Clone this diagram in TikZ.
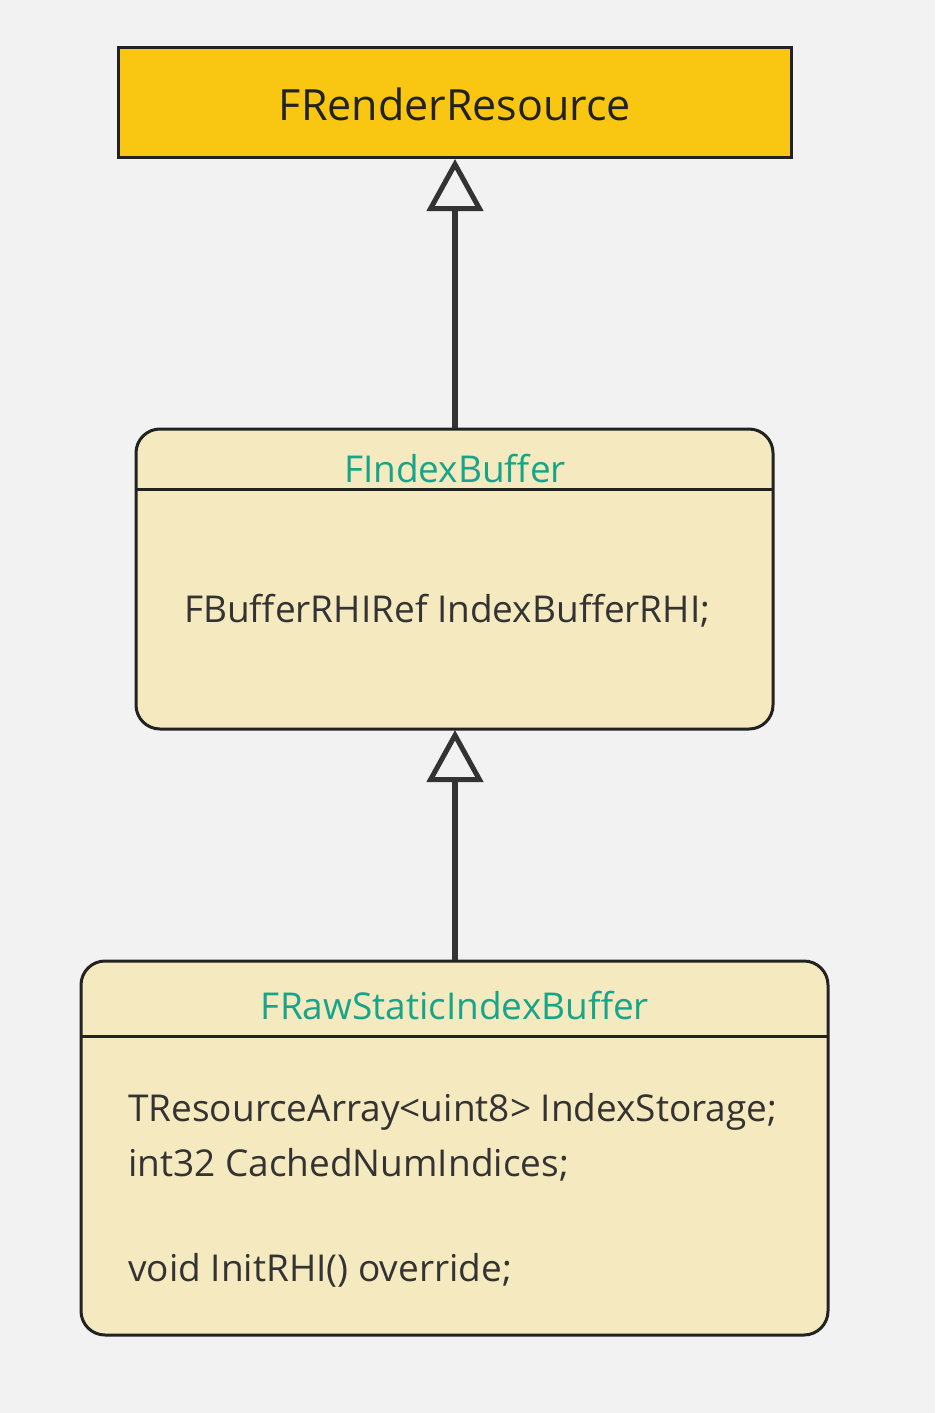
\documentclass[tikz,border=0pt]{standalone}
\usepackage{fontspec}
\setmainfont{Open Sans}
\definecolor{bg}{HTML}{F2F2F2}
\definecolor{topfill}{HTML}{F9C712}
\definecolor{clsfill}{HTML}{F5E9BF}
\definecolor{edge}{HTML}{222222}
\definecolor{arrowc}{HTML}{333333}
\definecolor{titlec}{HTML}{17A589}
\definecolor{textc}{HTML}{333333}
\usetikzlibrary{arrows.meta}
\tikzset{
  topbox/.style={draw=edge, line width=3pt, fill=topfill},
  clsbox/.style={draw=edge, line width=3pt, fill=clsfill, rounded corners=24pt},
  sepline/.style={draw=edge, line width=3pt},
  titletext/.style={text=titlec, font=\fontsize{37}{44}\selectfont, inner sep=0pt},
  bodytext/.style={text=textc, font=\fontsize{37}{52.5}\selectfont, inner sep=0pt, anchor=west, align=left},
  inherit/.style={draw=arrowc, line width=5.5pt, -{Triangle[open, width=56pt, length=52pt, line width=5pt]}},
}
\begin{document}
\begin{tikzpicture}[x=1pt,y=-1pt]
\useasboundingbox (0,0) rectangle (935,1413);
\fill[bg] (0,0) rectangle (935,1413);
% top box
\draw[topbox] (118,48) rectangle (791,157);
\node[text=edge, font=\fontsize{43}{50}\selectfont, inner sep=0pt] (fr) at (455,104) {FRenderResource};
\coordinate (frb) at (455,159);
% FIndexBuffer
\draw[clsbox] (136,429) rectangle (773,729);
\draw[sepline] (136,489) -- (773,489);
\coordinate (fit) at (455,428);
\coordinate (fib) at (455,730);
\node[titletext] (fit1) at (455,469) {FIndexBuffer};
\node[bodytext] (fib1) at (184,611) {FBufferRHIRef IndexBufferRHI;};
% FRawStaticIndexBuffer
\draw[clsbox] (81,961) rectangle (828,1335);
\draw[sepline] (81,1036) -- (828,1036);
\coordinate (frt) at (455,960);
\node[titletext] (frt1) at (455,1006) {FRawStaticIndexBuffer};
\node[bodytext] (frb1) at (128,1112) {TResourceArray<uint8> IndexStorage;};
\node[bodytext] (frb2) at (128,1165) {int32 CachedNumIndices;};
\node[bodytext] (frb3) at (128,1270) {void InitRHI() override;};
% arrows
\draw[inherit] (fit) -- (frb);
\draw[inherit] (frt) -- (fib);
\end{tikzpicture}
\end{document}
